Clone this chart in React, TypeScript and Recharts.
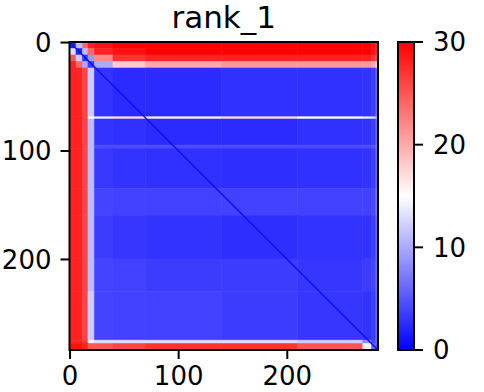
import React from "react";
import {
  ComposedChart,
  BarChart,
  Bar,
  XAxis,
  YAxis,
  ReferenceArea,
  ReferenceLine,
} from "recharts";

// predicted aligned error, residues 0..283, shown as coarse blocks
const residueCount = 284;
const rowEdges = [0, 6, 12, 18, 24, 69, 71, 95, 98, 135, 160, 200, 230, 275, 278, 284];
const colEdges = [0, 6, 12, 17, 23, 40, 70, 140, 210, 270, 278, 282, 284];
const errorBlocks = [
  [2, 11, 24, 28, 29, 30, 30, 30, 30, 30, 29, 28],
  [13, 2, 11, 24, 28, 29, 30, 30, 30, 30, 29, 28],
  [25, 12, 3, 9, 22, 27, 28, 28, 28, 28, 27, 26],
  [28, 24, 10, 3.5, 10, 18, 20, 21, 21, 21, 20, 18],
  [28, 28, 26, 12, 3, 2.5, 2.5, 2.8, 2.8, 3, 3.5, 6],
  [28, 28, 26, 15, 14, 17, 16, 17, 15, 14, 13, 11],
  [28, 28, 26, 11, 3, 2.8, 2.5, 2.5, 2.8, 3, 3.5, 6],
  [28, 28, 26, 11, 4.5, 4.5, 4.5, 4.5, 4.5, 4.5, 5, 7],
  [28, 28, 26, 11, 3.3, 3, 2.8, 2.7, 2.8, 3, 3.5, 6],
  [28, 28, 26, 11, 4, 3.8, 3.8, 3.8, 3.8, 3.8, 4.2, 7],
  [28, 28, 26, 11, 3.5, 3.2, 3, 2.7, 3, 3, 3.5, 6],
  [28, 28, 26, 11, 4, 3.8, 3.5, 3.5, 3.2, 3.5, 4, 6],
  [28, 28, 26, 12, 4, 3.8, 3.8, 3.5, 3.2, 3, 3.5, 6],
  [28, 28, 27, 16, 13, 13, 13, 13, 12, 8, 4, 6],
  [29, 29, 28, 25, 25, 26, 27, 27, 25, 16, 6, 5],
];
const selfError = 0.5;
const axisTicks = [0, 100, 200];
const colorbarTicks = [0, 10, 20, 30];
const maxError = 30;
const colorbarData = [{ name: "pae", value: maxError }];

// matplotlib "bwr"
const bwr = (v: number) => {
  const t = Math.max(0, Math.min(1, v / maxError));
  if (t < 0.5) {
    const s = Math.round(t * 2 * 255);
    return `rgb(${s},${s},255)`;
  }
  const s = Math.round((1 - t) * 2 * 255);
  return `rgb(255,${s},${s})`;
};

const lo = -0.5;
const hi = residueCount - 0.5;
const tickFont = { fill: "#000", fontSize: 26 };
const tickLine = { stroke: "#000", strokeWidth: 2 };

export default function App() {
  const cells: React.ReactNode[] = [];
  errorBlocks.forEach((row, i) =>
    row.forEach((v, j) => {
      const color = bwr(v);
      cells.push(
        <ReferenceArea
          key={`c-${i}-${j}`}
          x1={colEdges[j] - 0.5}
          x2={colEdges[j + 1] - 0.5}
          y1={rowEdges[i] - 0.5}
          y2={rowEdges[i + 1] - 0.5}
          fill={color}
          fillOpacity={1}
          stroke={color}
          strokeWidth={0.6}
        />
      );
    })
  );

  return (
    <div
      style={{
        position: "absolute",
        left: 0,
        top: 0,
        width: 484,
        height: 392,
        fontFamily: "DejaVu Sans",
        background: "#fff",
      }}
    >
      <div
        style={{
          position: "absolute",
          left: 0,
          top: 0,
          width: 447.5,
          textAlign: "center",
          fontSize: 31,
          lineHeight: "34px",
          color: "#000",
        }}
      >
        rank_1
      </div>

      {/* heatmap */}
      <div style={{ position: "absolute", left: 0, top: 0 }}>
        <ComposedChart
          width={400}
          height={392}
          margin={{ top: 42, right: 22, bottom: 0, left: 0 }}
        >
          <XAxis
            type="number"
            dataKey="x"
            domain={[lo, hi]}
            ticks={axisTicks}
            allowDataOverflow
            axisLine={false}
            tickLine={tickLine}
            tickSize={9}
            tickMargin={8}
            tick={tickFont}
            height={42}
          />
          <YAxis
            type="number"
            dataKey="y"
            domain={[lo, hi]}
            ticks={axisTicks}
            reversed
            allowDataOverflow
            axisLine={false}
            tickLine={tickLine}
            tickSize={9}
            tickMargin={9}
            tick={tickFont}
            width={69.5}
          />
          {cells}
          <ReferenceLine
            segment={[
              { x: lo, y: lo },
              { x: hi, y: hi },
            ]}
            stroke={bwr(selfError)}
            strokeWidth={1.3}
          />
          <ReferenceArea
            x1={lo}
            x2={hi}
            y1={lo}
            y2={hi}
            fill="none"
            stroke="#000"
            strokeWidth={2}
          />
        </ComposedChart>
      </div>

      {/* colorbar */}
      <div style={{ position: "absolute", left: 0, top: 0 }}>
        <BarChart
          width={484}
          height={392}
          data={colorbarData}
          barCategoryGap={0}
          margin={{ top: 42, right: 0, bottom: 42, left: 398 }}
        >
          <defs>
            <linearGradient id="bwrGradient" x1="0" y1="1" x2="0" y2="0">
              <stop offset="0%" stopColor={bwr(0)} />
              <stop offset="50%" stopColor={bwr(15)} />
              <stop offset="100%" stopColor={bwr(30)} />
            </linearGradient>
          </defs>
          <XAxis dataKey="name" hide />
          <YAxis
            orientation="right"
            domain={[0, maxError]}
            ticks={colorbarTicks}
            axisLine={false}
            tickLine={tickLine}
            tickSize={9}
            tickMargin={10}
            tick={tickFont}
            width={70}
          />
          <Bar
            dataKey="value"
            fill="url(#bwrGradient)"
            stroke="#000"
            strokeWidth={2}
            isAnimationActive={false}
          />
        </BarChart>
      </div>
    </div>
  );
}
